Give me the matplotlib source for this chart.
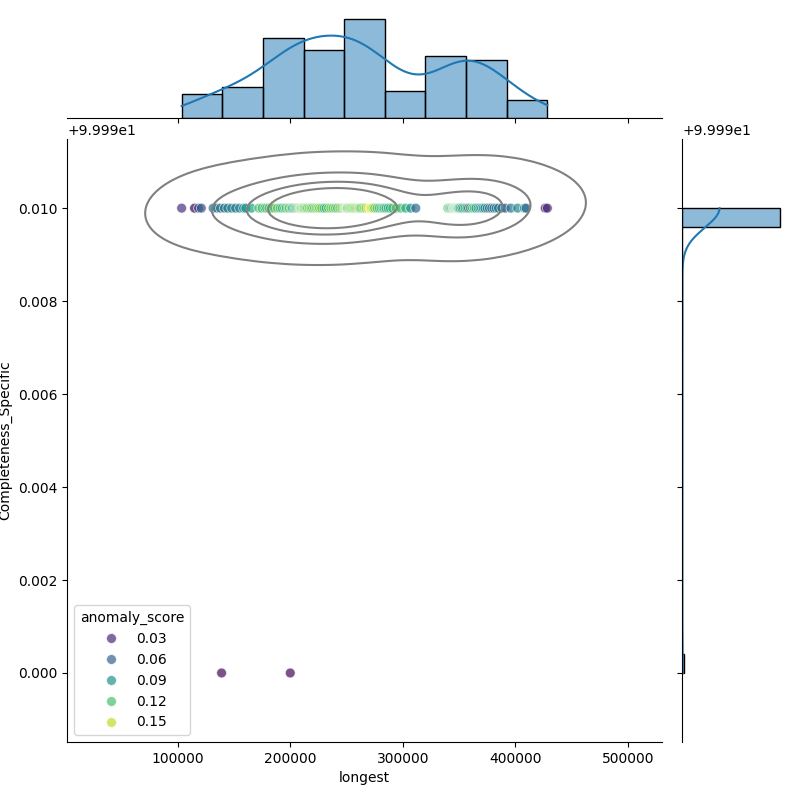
import matplotlib
matplotlib.use('Agg')
import matplotlib.pyplot as plt
import numpy as np
import pandas as pd
import seaborn as sns

longest = [
    # bin 1
    103500, 115000, 118500, 121000, 131500, 135000, 138000, 139000,
    # bin 2
    141500, 144500, 148000, 151500, 155000, 158500, 160500, 165500, 172000, 175000,
    # bin 3
    177500, 179000, 181000, 183500, 186000, 188500, 191000, 193000, 195000, 196500,
    198000, 199000, 200000, 201000, 202000, 203500, 204500, 205500, 206500, 207500,
    208500, 209000, 209500, 210000, 211000, 211500,
    # bin 4
    212500, 213500, 214500, 215500, 217000, 218500, 220000, 221500, 223000, 224500,
    226000, 228000, 230000, 232000, 234000, 236000, 238000, 240000, 242000, 244000,
    246000, 247500,
    # bin 5
    248500, 249000, 249500, 250000, 250500, 251000, 252000, 253000, 254000, 255000,
    256000, 257000, 258000, 259000, 260000, 261000, 262000, 263000, 264500, 266000,
    267500, 269000, 270500, 271000, 272000, 273500, 275000, 277000, 279000, 281000,
    282500, 283500,
    # bin 6
    285000, 287000, 289000, 291000, 294000, 298000, 302500, 307000, 311500,
    # bin 7
    340000, 341500, 342500, 343500, 344500, 345000, 345500, 346000, 346500, 347000,
    347500, 348000, 348500, 349000, 349500, 350000, 351000, 352500, 354000, 355500,
    # bin 8
    357000, 358500, 360000, 362000, 363500, 365000, 367000, 368500, 370000, 371500,
    373000, 375000, 377000, 379000, 381000, 383000, 385000, 388000, 391000,
    # bin 9
    396000, 402000, 408000, 409500, 426500, 428400,
]

anomaly_score = [
    # bin 1
    0.035, 0.012, 0.06, 0.05, 0.065, 0.07, 0.075, 0.015,
    # bin 2
    0.07, 0.075, 0.08, 0.07, 0.085, 0.09, 0.095, 0.10, 0.125, 0.115,
    # bin 3
    0.11, 0.12, 0.13, 0.10, 0.125, 0.13, 0.12, 0.11, 0.125, 0.10,
    0.12, 0.13, 0.015, 0.12, 0.115, 0.08, 0.12, 0.105, 0.125, 0.13,
    0.11, 0.135, 0.12, 0.125, 0.13, 0.14,
    # bin 4
    0.13, 0.12, 0.135, 0.125, 0.14, 0.13, 0.12, 0.125, 0.135, 0.13,
    0.14, 0.125, 0.12, 0.10, 0.13, 0.135, 0.125, 0.13, 0.12, 0.14,
    0.125, 0.13,
    # bin 5
    0.13, 0.12, 0.135, 0.13, 0.14, 0.125, 0.13, 0.14, 0.135, 0.12,
    0.13, 0.14, 0.125, 0.13, 0.14, 0.145, 0.13, 0.12, 0.135, 0.14,
    0.13, 0.15, 0.155, 0.165, 0.16, 0.14, 0.13, 0.125, 0.12, 0.11,
    0.10, 0.115,
    # bin 6
    0.12, 0.11, 0.10, 0.12, 0.125, 0.12, 0.11, 0.09, 0.065,
    # bin 7
    0.12, 0.125, 0.11, 0.12, 0.10, 0.13, 0.12, 0.11, 0.125, 0.10,
    0.12, 0.115, 0.13, 0.105, 0.12, 0.11, 0.12, 0.10, 0.08, 0.11,
    # bin 8
    0.11, 0.04, 0.12, 0.11, 0.12, 0.10, 0.09, 0.085, 0.10, 0.09,
    0.08, 0.075, 0.07, 0.075, 0.065, 0.07, 0.08, 0.065, 0.065,
    # bin 9
    0.07, 0.085, 0.08, 0.065, 0.02, 0.03,
]

# points whose Completeness_Specific is 99.99 (all others 100.0)
low_completeness_x = [139000, 200000]
completeness = [99.99 if x in low_completeness_x else 100.0 for x in longest]

df = pd.DataFrame({
    'longest': longest,
    'Completeness_Specific': completeness,
    'anomaly_score': anomaly_score,
})

g = sns.JointGrid(data=df, x='longest', y='Completeness_Specific', height=8)
sns.scatterplot(data=df, x='longest', y='Completeness_Specific', hue='anomaly_score',
                palette='viridis', alpha=0.7, s=50, ax=g.ax_joint)
sns.kdeplot(data=df, x='longest', y='Completeness_Specific', color='gray', levels=5,
            ax=g.ax_joint)
sns.histplot(data=df, x='longest', kde=True, ax=g.ax_marg_x)
sns.histplot(data=df, y='Completeness_Specific', kde=True, bins=25, ax=g.ax_marg_y)
g.ax_joint.legend(title='anomaly_score', loc='lower left')
g.figure.set_size_inches(8, 8)
g.figure.subplots_adjust(left=0.084, right=0.981, bottom=0.0725, top=0.982)
g.figure.savefig('out.png', dpi=100)
